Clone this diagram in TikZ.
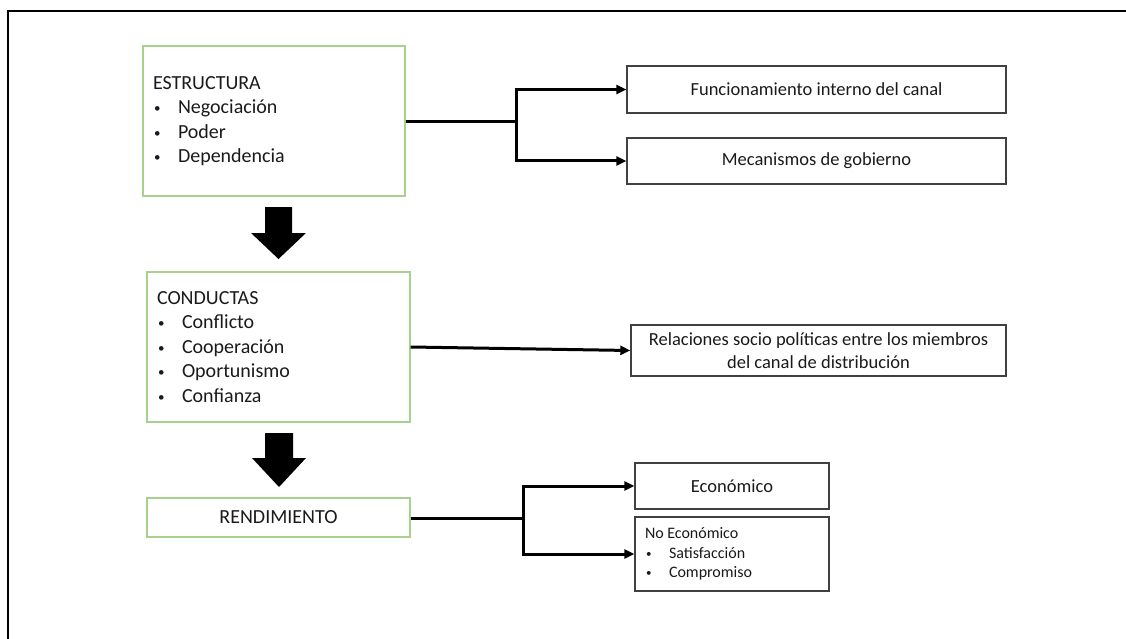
\documentclass[tikz,border=0pt]{standalone}
\usepackage{fontspec}
\setmainfont{Carlito}
\usetikzlibrary{arrows.meta}
\definecolor{boxgreen}{HTML}{A9D18E}
\definecolor{txt}{HTML}{1A1A1A}
\newcommand{\bitem}[1]{\makebox[25pt][l]{\hspace{1pt}\raisebox{1pt}{\fontsize{13}{13}\selectfont •}}#1}
\newcommand{\sitem}[1]{\makebox[24pt][l]{\hspace{1pt}\raisebox{1pt}{\fontsize{11}{11}\selectfont •}}#1}
\begin{document}
\begin{tikzpicture}[x=1pt,y=-1pt,
  greenbox/.style={draw=boxgreen, line width=1.4pt, inner sep=0pt, text=txt},
  outbox/.style={draw=black!75, line width=1.4pt, inner sep=0pt, text=txt, align=center},
  big/.style={font=\fontsize{20}{24.5}\selectfont},
  mid/.style={font=\fontsize{18.5}{22.5}\selectfont},
  small/.style={font=\fontsize{16}{19.5}\selectfont},
  conn/.style={line width=3pt, black},
  arr/.style={conn, -{Triangle[length=10pt,width=9pt]}},
  blockarrow/.style={fill=black, draw=none}
]
\useasboundingbox (0,0) rectangle (1126,639);
% frame
\draw[line width=2.5pt, black] (8,639) -- (8,11) -- (1126,11);

% left boxes
\node[greenbox, big, text width=242pt, inner xsep=10pt, minimum height=150pt, align=left] (estr) at (274,121)
  {ESTRUCTURA\\\bitem{Negociación}\\\bitem{Poder}\\\bitem{Dependencia}};
\node[greenbox, big, text width=243pt, inner xsep=10pt, minimum height=150pt, align=left] (cond) at (278.5,347)
  {CONDUCTAS\\\bitem{Conflicto}\\\bitem{Cooperación}\\\bitem{Oportunismo}\\\bitem{Confianza}};
\node[greenbox, big, minimum width=263pt, minimum height=39pt] (rend) at (278.5,517.5) {RENDIMIENTO};

% right boxes
\node[outbox, mid, minimum width=379pt, minimum height=47pt] (func) at (816.5,89.5) {Funcionamiento interno del canal};
\node[outbox, mid, minimum width=379pt, minimum height=46pt] (mec) at (816.5,161) {Mecanismos de gobierno};
\node[outbox, mid, minimum width=375pt, minimum height=51pt] (rel) at (818.5,350.5)
  {Relaciones socio políticas entre los miembros\\del canal de distribución};
\node[outbox, mid, minimum width=194pt, minimum height=46pt] (eco) at (732,486) {Económico};
\node[outbox, small, text width=174pt, inner xsep=10pt, minimum height=74pt, align=left] (noeco) at (732,554)
  {No\hspace{3.5pt}Económico\\\sitem{Satisfacción}\\\sitem{Compromiso}};

% block arrows
\fill[blockarrow] (265,207) -- (292,207) -- (292,233) -- (306,233) -- (278.5,259) -- (251,233) -- (265,233) -- cycle;
\fill[blockarrow] (265,433) -- (293,433) -- (293,458) -- (306,458) -- (279,487) -- (252,458) -- (265,458) -- cycle;

% connectors
\coordinate (j1) at (516,122);
\coordinate (j2) at (523,518);
\draw[conn] (estr.east |- j1) -- (j1);
\draw[arr] (j1) |- (func.west);
\draw[arr] (j1) |- (mec.west);
\draw[arr] (cond.east) -- (rel.west);
\draw[conn] (rend.east |- j2) -- (j2);
\draw[arr] (j2) |- (eco.west);
\draw[arr] (j2) |- (noeco.west);
\end{tikzpicture}
\end{document}
